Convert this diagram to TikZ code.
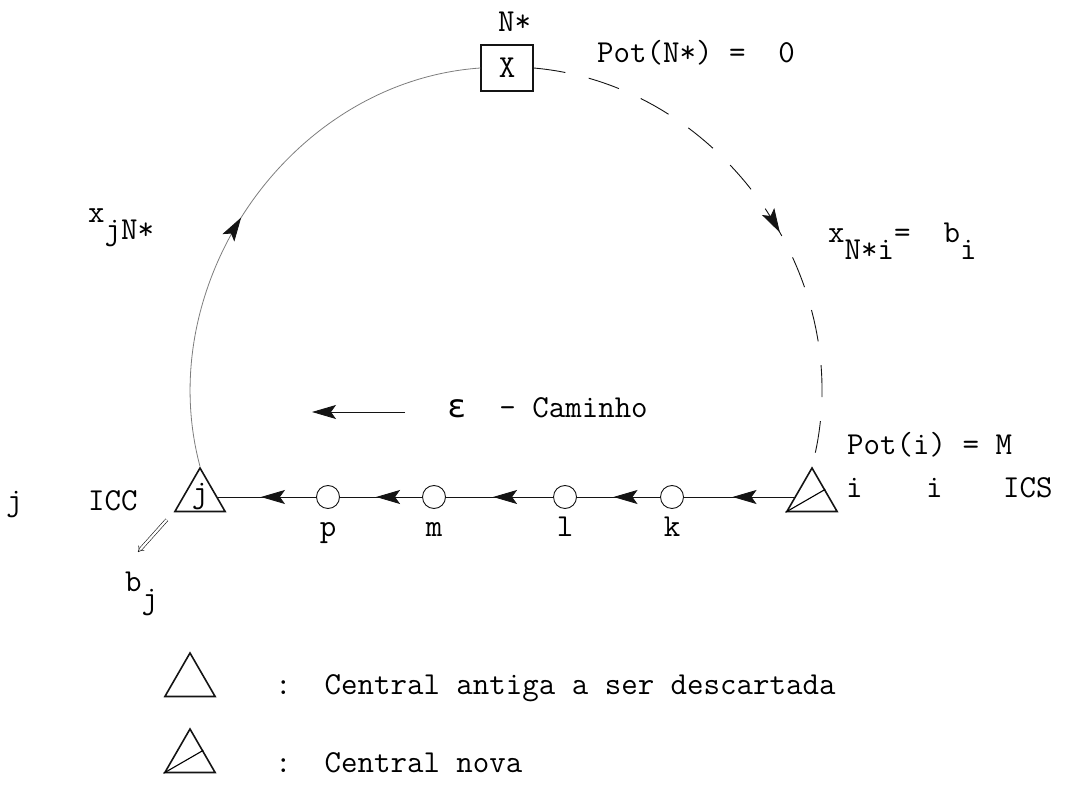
\documentclass[tikz,border=0pt]{standalone}
\usepackage{fontspec}
\newfontfamily\grego{DejaVu Sans Mono}
\usetikzlibrary{shapes.geometric, arrows.meta, positioning, calc, decorations.markings}
\definecolor{tinta}{RGB}{20,20,20}
\definecolor{traco}{RGB}{125,125,125}
\newcommand{\desce}[1]{\raisebox{-1.2ex}{#1}}
\tikzset{
  central/.style={regular polygon, regular polygon sides=3, draw=tinta, line width=1.6pt,
                  minimum size=58pt, inner sep=0pt},
  vertice/.style={circle, draw=tinta, line width=0.9pt, minimum size=23pt, inner sep=0pt},
  caixa/.style={rectangle, draw=tinta, line width=1.3pt, minimum width=52pt, minimum height=46pt},
  texto/.style={anchor=base west, inner sep=0pt},
  nome/.style={text height=22pt, text depth=7pt, inner sep=0pt},
  ponta/.style={-{Stealth[length=24pt, width=14pt, inset=5pt]}},
  fluxo/.style={draw=tinta, line width=0.9pt, postaction={decorate},
                decoration={markings, mark=at position #1 with
                  {\arrow{Stealth[length=24pt, width=14pt, inset=5pt, color=tinta]}}}},
  fluxo/.default=0.56,
}

\begin{document}
\begin{tikzpicture}[x=1pt, y=1pt, font=\fontsize{32}{38}\selectfont\ttfamily]
  \useasboundingbox (0,0) rectangle (1067,792);
  % no ficticio N*
  \node[caixa] (ns) at (507,724) {X};
  \node[texto] (nsnome) at (498,760) {N*};
  \node[texto] (potns) at (597,729) {Pot(N*)~=~~0};
  % centrais e vertices do caminho
  \node[central, label=center:j] (j) at (200,295) {};
  \node[central] (i) at (812,295) {};
  \draw[line width=1.1pt] (i.corner 2) -- ($(i.corner 1)!.5!(i.corner 3)$);
  \node[vertice, label={[nome, label distance=5pt]below:p}] (p) at (328,295) {};
  \node[vertice, label={[nome, label distance=5pt]below:m}] (m) at (434,295) {};
  \node[vertice, label={[nome, label distance=5pt]below:l}] (l) at (565,295) {};
  \node[vertice, label={[nome, label distance=5pt]below:k}] (k) at (672,295) {};
  \foreach \a/\b in {i/k, k/l, l/m, m/p, p/j}
    \draw[fluxo] (\a) -- (\b);
  % arcos pelo no ficticio
  \draw[fluxo=0.47, draw=traco, line width=0.8pt] (j.north) to[out=105, in=184] (ns.west);
  \draw[fluxo=0.56, dash pattern=on 32pt off 24pt] (ns.east) to[out=-5, in=75] (i.north);
  \node[texto] (xjn) at (88,569) {x\desce{jN*}};
  \node[texto] (xni) at (828,549) {x\desce{N*i}=~~b\desce{i}};
  % epsilon-caminho
  \coordinate (epsA) at (405,380);
  \coordinate (epsB) at (312,380);
  \draw[ponta, line width=0.9pt, draw=tinta] (epsA) -- (epsB);
  \node[texto] (eps) at (447,374) {{\grego ε}~~-~Caminho};
  \node[texto] (poti) at (847,337) {Pot(i)~=~M};
  \node[texto] (irot) at (846,294) {i};
  \node[texto] (i2) at (926,294) {i};
  \node[texto] (ics) at (1003,294) {ICS};
  \node[texto] (jrot) at (6,281) {j};
  \node[texto] (icc) at (88,281) {ICC};
  % saida de b_j
  \coordinate (bjseta) at (138,240);
  \draw[double, double distance=2.2pt, line width=0.6pt, draw=tinta, -{Implies}, shorten <=10pt]
    (j.corner 2) -- (bjseta);
  \node[texto] (bj) at (125,200) {b\desce{j}};
  % legenda
  \node[central] (antiga) at (190,110) {};
  \node[texto] (antigatxt) at (275,97) {:~~Central antiga a ser descartada};
  \node[central] (nova) at (190,34) {};
  \draw[line width=1.1pt] (nova.corner 2) -- ($(nova.corner 1)!.5!(nova.corner 3)$);
  \node[texto] (novatxt) at (275,20) {:~~Central nova};
\end{tikzpicture}
\end{document}
